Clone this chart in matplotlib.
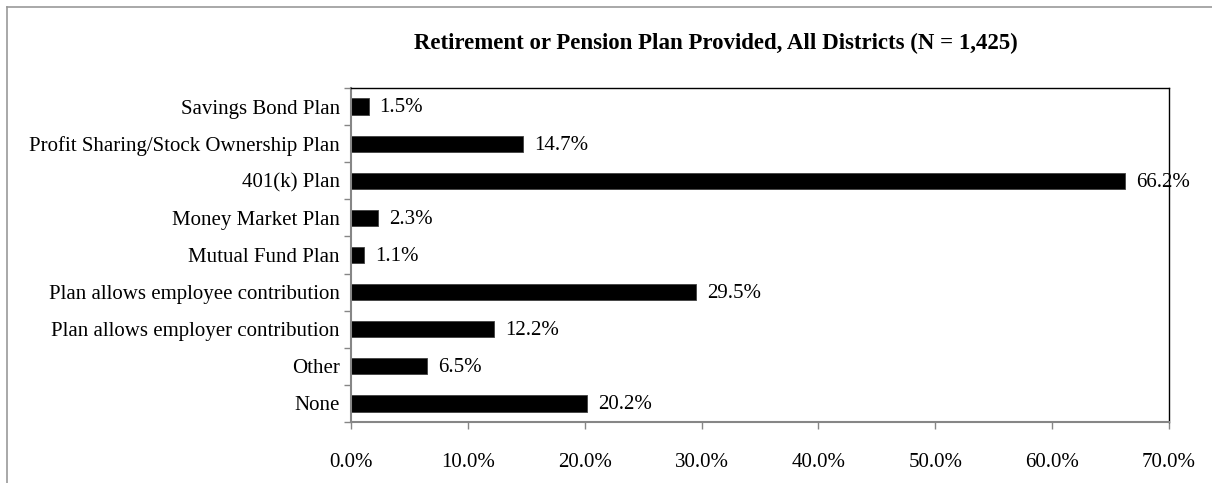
import matplotlib.pyplot as plt
from matplotlib.lines import Line2D
import numpy as np

plt.rcParams['font.family'] = ['Liberation Serif', 'DejaVu Serif']

categories = [
    'Savings Bond Plan',
    'Profit Sharing/Stock Ownership Plan',
    '401(k) Plan',
    'Money Market Plan',
    'Mutual Fund Plan',
    'Plan allows employee contribution',
    'Plan allows employer contribution',
    'Other',
    'None',
]
percent = [1.5, 14.7, 66.2, 2.3, 1.1, 29.5, 12.2, 6.5, 20.2]
x_ticks = [0, 10, 20, 30, 40, 50, 60, 70]
title = 'Retirement or Pension Plan Provided, All Districts (N = 1,425)'

GRAY = '#868686'
FS = 15

fig = plt.figure(figsize=(12.12, 4.83), dpi=100)
ax = fig.add_axes([351 / 1212, 1 - 422 / 483, (1169 - 351) / 1212, (422 - 88) / 483])

y = np.arange(len(categories))
ax.barh(y, percent, height=0.44, color='black', edgecolor='#404040', linewidth=0.6)
for yi, v in zip(y, percent):
    ax.annotate(f'{v:.1f}%', xy=(v, yi), xytext=(8, -1), textcoords='offset points',
                va='center', ha='left', fontsize=FS)

ax.set_xlim(0, 70)
ax.set_ylim(len(categories) - 0.5, -0.5)
ax.set_xticks(x_ticks)
ax.set_xticklabels([f'{t:.1f}%' for t in x_ticks], fontsize=FS)
ax.set_yticks(y)
ax.set_yticklabels(categories, fontsize=FS)
ax.set_yticks(np.arange(len(categories) + 1) - 0.5, minor=True)
ax.tick_params(axis='y', which='major', length=0, pad=8)
ax.tick_params(axis='y', which='minor', length=5, color=GRAY, width=1)
ax.tick_params(axis='x', length=5, color=GRAY, width=1, pad=17)

for side in ['left', 'bottom']:
    ax.spines[side].set_color(GRAY)
    ax.spines[side].set_linewidth(1.5)
for side in ['top', 'right']:
    ax.spines[side].set_color('black')
    ax.spines[side].set_linewidth(1.0)

fig.text(716 / 1212, 1 - 43 / 483, title, ha='center', va='center',
         fontsize=16.5, fontweight='bold')

# chart area frame, open on the right and bottom
fig.add_artist(Line2D([7 / 1212, 7 / 1212], [0, 1 - 7 / 483], transform=fig.transFigure,
                      color='#999999', linewidth=1.2))
fig.add_artist(Line2D([7 / 1212, 1], [1 - 7 / 483, 1 - 7 / 483], transform=fig.transFigure,
                      color='#999999', linewidth=1.2))

fig.savefig('out.png', dpi=100)
